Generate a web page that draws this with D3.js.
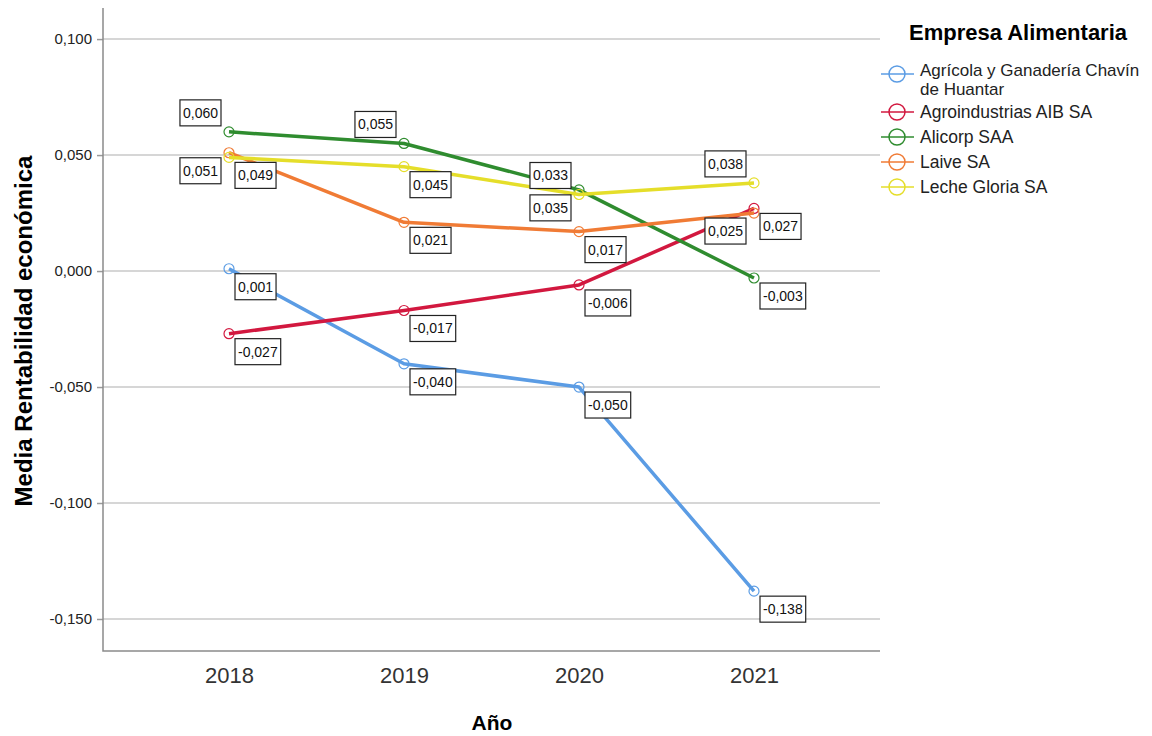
<!DOCTYPE html>
<html>
<head>
<meta charset="utf-8">
<script src="https://cdn.jsdelivr.net/npm/d3@7"></script>
<style>
  body { margin: 0; background: #fff; }
  svg { display: block; font-family: Arial, "Liberation Sans", sans-serif; }
  .grid line { stroke: #c8c8c8; stroke-width: 1.5; }
</style>
</head>
<body>
<div id="chart"></div>
<script>
// chart data
const years = ["2018", "2019", "2020", "2021"];
const companies = [
  "Agrícola y Ganadería Chavín de Huantar",
  "Agroindustrias AIB SA",
  "Alicorp SAA",
  "Laive SA",
  "Leche Gloria SA"
];
const agricola = [0.001, -0.040, -0.050, -0.138];
const aib = [-0.027, -0.017, -0.006, 0.027];
const alicorp = [0.060, 0.055, 0.035, -0.003];
const laive = [0.051, 0.021, 0.017, 0.025];
const gloria = [0.049, 0.045, 0.033, 0.038];
const yTicks = [0.100, 0.050, 0.000, -0.050, -0.100, -0.150];

const colors = ["#5b9ce4", "#d2183f", "#2f8c2f", "#f07b35", "#e5de2a"];
const seriesValues = [agricola, aib, alicorp, laive, gloria];

// where each value label sits relative to its point (default lower right)
const labelSide = {
  "2|0": "tl", "3|0": "bl",
  "2|1": "tl",
  "4|2": "tl", "2|2": "bl",
  "4|3": "tl", "3|3": "bl"
};

const W = 1152, H = 736;
const plot = { left: 103, right: 880, top: 8, bottom: 651 };

const svg = d3.select("#chart").append("svg")
  .attr("width", W).attr("height", H);

const x = d3.scalePoint()
  .domain(years)
  .range([plot.left, plot.right])
  .padding(0.72);

const y = d3.scaleLinear()
  .domain([-0.1638, 0.1134])
  .range([plot.bottom, plot.top]);

const fmt = v => d3.format(".3f")(v).replace(".", ",").replace("−", "-");

// gridlines
svg.append("g").attr("class", "grid")
  .selectAll("line").data(yTicks).enter().append("line")
  .attr("x1", plot.left).attr("x2", plot.right)
  .attr("y1", d => y(d)).attr("y2", d => y(d));

// y axis
const yAxis = svg.append("g")
  .attr("transform", "translate(" + plot.left + ",0)")
  .call(d3.axisLeft(y).tickValues(yTicks).tickFormat(fmt).tickSize(6).tickPadding(5));
yAxis.select(".domain").remove();
yAxis.selectAll(".tick line").attr("stroke", "#9a9a9a").attr("stroke-width", 1.5);
yAxis.selectAll("text").attr("font-size", 15).attr("fill", "#222")
  .attr("font-family", "Arial, 'Liberation Sans', sans-serif");

// x axis
const xAxis = svg.append("g")
  .attr("transform", "translate(0," + plot.bottom + ")")
  .call(d3.axisBottom(x).tickSize(0).tickPadding(0));
xAxis.select(".domain").remove();
xAxis.selectAll("text").attr("font-size", 22).attr("fill", "#333")
  .attr("font-family", "Arial, 'Liberation Sans', sans-serif")
  .attr("dy", null).attr("y", 32);

// axis frame
svg.append("path")
  .attr("d", "M" + plot.left + "," + plot.top + "V" + plot.bottom + "H" + plot.right)
  .attr("fill", "none").attr("stroke", "#8a8a8a").attr("stroke-width", 1.5);

// axis titles
svg.append("text")
  .attr("transform", "translate(32," + 331 + ") rotate(-90)")
  .attr("text-anchor", "middle")
  .attr("font-size", 24).attr("font-weight", "bold")
  .text("Media Rentabilidad económica");

svg.append("text")
  .attr("x", 492).attr("y", 730)
  .attr("text-anchor", "middle")
  .attr("font-size", 21).attr("font-weight", "bold")
  .text("Año");

// lines
const line = d3.line()
  .x((d, i) => x(years[i]))
  .y(d => y(d));

const series = svg.selectAll(".series")
  .data(seriesValues)
  .enter().append("g")
  .attr("class", "series");

series.append("path")
  .attr("d", d => line(d))
  .attr("fill", "none")
  .attr("stroke", (d, i) => colors[i])
  .attr("stroke-width", 3.5)
  .attr("stroke-linejoin", "round");

series.each(function(vals, si) {
  d3.select(this).selectAll("circle")
    .data(vals).enter().append("circle")
    .attr("cx", (d, i) => x(years[i]))
    .attr("cy", d => y(d))
    .attr("r", 5)
    .attr("fill", "none")
    .attr("stroke", colors[si])
    .attr("stroke-width", 1.2);
});

// value labels
const labels = svg.append("g");
seriesValues.forEach((vals, si) => {
  vals.forEach((v, i) => {
    const px = x(years[i]), py = y(v);
    const side = labelSide[si + "|" + i] || "br";
    const g = labels.append("g");
    const t = g.append("text")
      .attr("font-size", 14)
      .attr("fill", "#111")
      .text(fmt(v));
    const bw = t.node().getComputedTextLength() + 6, bh = 26;
    let bx, by;
    if (side === "br") { bx = px + 6; by = py + 5; }
    else if (side === "tl") { bx = px - 8 - bw; by = py - 6 - bh; }
    else { bx = px - 8 - bw; by = py + 5; }
    g.insert("rect", "text")
      .attr("x", bx).attr("y", by)
      .attr("width", bw).attr("height", bh)
      .attr("fill", "#fff").attr("stroke", "#222").attr("stroke-width", 1.2);
    t.attr("x", bx + 3).attr("y", by + bh / 2 + 5);
  });
});

// legend
const legend = svg.append("g");
legend.append("text")
  .attr("x", 1018).attr("y", 40)
  .attr("text-anchor", "middle")
  .attr("font-size", 22).attr("font-weight", "bold")
  .text("Empresa Alimentaria");

const legendY = [74, 112, 137, 162, 187];
companies.forEach((name, i) => {
  const g = legend.append("g").attr("transform", "translate(0," + legendY[i] + ")");
  g.append("line")
    .attr("x1", 881).attr("x2", 914)
    .attr("stroke", colors[i]).attr("stroke-width", 1.5);
  g.append("circle")
    .attr("cx", 897).attr("r", 8)
    .attr("fill", "none").attr("stroke", colors[i]).attr("stroke-width", 1.5);
  if (i === 0) {
    // long name wraps onto two lines
    g.append("text").attr("x", 920).attr("y", 2)
      .attr("font-size", 17).attr("fill", "#222")
      .text("Agrícola y Ganadería Chavín");
    g.append("text").attr("x", 920).attr("y", 21)
      .attr("font-size", 17).attr("fill", "#222")
      .text("de Huantar");
  } else {
    g.append("text").attr("x", 920).attr("y", 6)
      .attr("font-size", 17.5).attr("fill", "#222")
      .text(name);
  }
});
</script>
</body>
</html>
